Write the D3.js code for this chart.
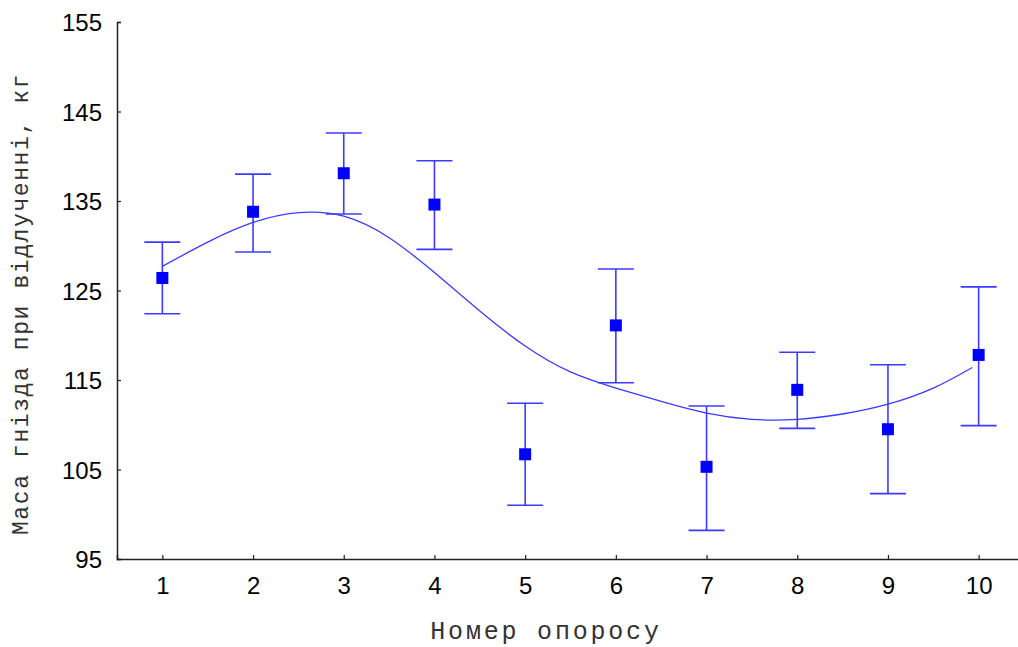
<!DOCTYPE html>
<html>
<head>
<meta charset="utf-8">
<script src="https://cdn.jsdelivr.net/npm/d3@7"></script>
<style>
  html, body { margin: 0; padding: 0; background: #fff; }
  svg { display: block; }
</style>
</head>
<body>
<svg id="chart" width="1018" height="647"></svg>
<script>
// Farrowing number and litter weight at weaning (mean with upper/lower bounds)
const litters = [1, 2, 3, 4, 5, 6, 7, 8, 9, 10];
const meanWeight = [126.4, 133.8, 138.1, 134.6, 106.7, 121.1, 105.3, 113.9, 109.5, 117.8];
const upperBound = [130.4, 138.0, 142.6, 139.5, 112.4, 127.4, 112.1, 118.1, 116.7, 125.4];
const lowerBound = [122.4, 129.3, 133.55, 129.6, 101.0, 114.7, 98.2, 109.6, 102.3, 109.9];

// Smoothed trend through the means
const trendX = [1, 1.5, 2, 2.5, 3, 3.5, 4, 4.5, 5, 5.5, 6, 6.5, 7, 7.5, 8, 8.5, 9, 9.5, 9.93];
const trendY = [127.7, 130.4, 132.6, 133.7, 133.3, 130.9, 127.0, 122.7, 118.8, 115.9, 114.1, 112.6, 111.3, 110.6, 110.6, 111.2, 112.3, 114.1, 116.4];

const yTicks = [95, 105, 115, 125, 135, 145, 155];
const xTicks = litters;

const xTitle = "Номер опоросу";
const yTitle = "Маса гнізда при відлученні, кг";

const svg = d3.select("#chart");
const markColor = "#0000ff";
const barColor = "#3b3bff";
const axisColor = "#222";

const x = d3.scaleLinear().domain([0.5, 10.5]).range([117, 1024]);
const y = d3.scaleLinear().domain([95, 155]).range([559, 22]);

// Axes
const tickFont = "'Liberation Sans', Arial, sans-serif";
const yAxis = d3.axisRight(y).tickValues(yTicks).tickSize(4).tickFormat(d3.format("d"));
const yG = svg.append("g").attr("transform", `translate(${x(0.5)},0)`).call(yAxis);
yG.select(".domain").attr("stroke", axisColor).attr("stroke-width", 1.5);
yG.selectAll(".tick line").attr("stroke", axisColor).attr("stroke-width", 1.2);
yG.selectAll(".tick text")
  .attr("x", -15).attr("dy", "0.37em")
  .attr("text-anchor", "end")
  .attr("fill", "#000")
  .style("font-family", tickFont)
  .style("font-size", "24px");

const xAxis = d3.axisTop(x).tickValues(xTicks).tickSize(4).tickFormat(d3.format("d"));
const xG = svg.append("g").attr("transform", `translate(0,${y(95)})`).call(xAxis);
xG.select(".domain").attr("stroke", axisColor).attr("stroke-width", 1.5);
xG.selectAll(".tick line").attr("stroke", axisColor).attr("stroke-width", 1.2);
xG.selectAll(".tick text")
  .attr("y", 35).attr("dy", 0)
  .attr("text-anchor", "middle")
  .attr("fill", "#000")
  .style("font-family", tickFont)
  .style("font-size", "24px");

// Trend curve
const trend = trendX.map((t, i) => [t, trendY[i]]);
svg.append("path")
  .datum(trend)
  .attr("fill", "none")
  .attr("stroke", barColor)
  .attr("stroke-width", 1.3)
  .attr("d", d3.line().x(d => x(d[0])).y(d => y(d[1])).curve(d3.curveNatural));

// Error bars
const pts = litters.map((l, i) => ({ l, m: meanWeight[i], hi: upperBound[i], lo: lowerBound[i] }));
const capHalf = 18;
const eb = svg.append("g").attr("stroke", barColor).attr("stroke-width", 1.6);
eb.selectAll("line.v").data(pts).join("line").attr("class", "v")
  .attr("x1", d => x(d.l)).attr("x2", d => x(d.l))
  .attr("y1", d => y(d.hi)).attr("y2", d => y(d.lo));
eb.selectAll("line.t").data(pts).join("line").attr("class", "t")
  .attr("x1", d => x(d.l) - capHalf).attr("x2", d => x(d.l) + capHalf)
  .attr("y1", d => y(d.hi)).attr("y2", d => y(d.hi));
eb.selectAll("line.b").data(pts).join("line").attr("class", "b")
  .attr("x1", d => x(d.l) - capHalf).attr("x2", d => x(d.l) + capHalf)
  .attr("y1", d => y(d.lo)).attr("y2", d => y(d.lo));

// Mean markers
const sz = 12;
svg.append("g").selectAll("rect").data(pts).join("rect")
  .attr("x", d => x(d.l) - sz / 2).attr("y", d => y(d.m) - sz / 2)
  .attr("width", sz).attr("height", sz)
  .attr("fill", markColor);

// Axis titles
svg.append("text")
  .attr("x", 546).attr("y", 639)
  .attr("text-anchor", "middle")
  .attr("fill", "#333")
  .style("font-family", "'Liberation Mono', 'Courier New', monospace")
  .style("font-size", "25px")
  .style("letter-spacing", "2.8px")
  .text(xTitle);

svg.append("text")
  .attr("transform", "translate(28,304) rotate(-90)")
  .attr("text-anchor", "middle")
  .attr("fill", "#333")
  .style("font-family", "'Liberation Mono', 'Courier New', monospace")
  .style("font-size", "23px")
  .style("letter-spacing", "1.6px")
  .text(yTitle);
</script>
</body>
</html>
